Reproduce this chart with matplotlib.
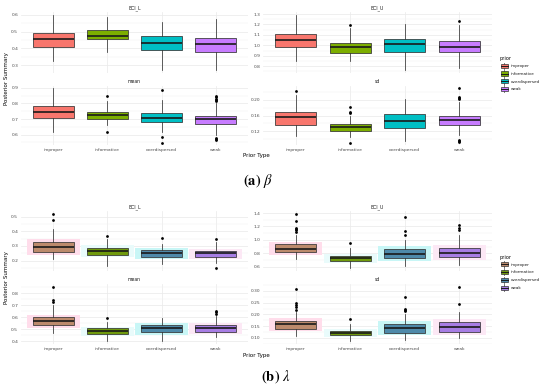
import matplotlib
matplotlib.use('Agg')
import matplotlib.pyplot as plt
from matplotlib.legend_handler import HandlerBase
from matplotlib.patches import Rectangle, Patch
from matplotlib.lines import Line2D
from matplotlib.ticker import MultipleLocator, FormatStrFormatter

plt.rcParams['font.family'] = ['DejaVu Sans']
plt.rcParams['mathtext.fontset'] = 'stix'

categories = ['improper', 'informative', 'overdispersed', 'weak']
facets = ['BCI_L', 'BCI_U', 'mean', 'sd']

# ---------------- (a) beta ----------------
beta_BCI_L_whislo = [0.325, 0.376, 0.271, 0.271]
beta_BCI_L_q1 = [0.408, 0.453, 0.392, 0.376]
beta_BCI_L_med = [0.455, 0.475, 0.430, 0.424]
beta_BCI_L_q3 = [0.489, 0.511, 0.475, 0.459]
beta_BCI_L_whishi = [0.598, 0.584, 0.555, 0.574]
beta_BCI_L_fliers = [[], [], [], []]

beta_BCI_U_whislo = [0.849, 0.849, 0.763, 0.779]
beta_BCI_U_q1 = [0.981, 0.929, 0.933, 0.933]
beta_BCI_U_med = [1.048, 0.981, 1.012, 0.987]
beta_BCI_U_q3 = [1.105, 1.025, 1.057, 1.044]
beta_BCI_U_whishi = [1.290, 1.170, 1.201, 1.195]
beta_BCI_U_fliers = [[], [1.19], [], [1.233]]

beta_mean_whislo = [0.619, 0.662, 0.619, 0.598]
beta_mean_q1 = [0.704, 0.700, 0.681, 0.666]
beta_mean_med = [0.745, 0.726, 0.704, 0.698]
beta_mean_q3 = [0.783, 0.747, 0.738, 0.721]
beta_mean_whishi = [0.896, 0.815, 0.821, 0.805]
beta_mean_fliers = [[], [0.845, 0.617], [0.889, 0.583, 0.549],
                    [0.847, 0.838, 0.830, 0.822, 0.815, 0.580, 0.573, 0.566]]

beta_sd_whislo = [0.108, 0.106, 0.0955, 0.110]
beta_sd_q1 = [0.136, 0.120, 0.129, 0.137]
beta_sd_med = [0.157, 0.130, 0.146, 0.148]
beta_sd_q3 = [0.170, 0.139, 0.163, 0.160]
beta_sd_whishi = [0.212, 0.160, 0.2025, 0.194]
beta_sd_fliers = [[0.222], [0.182, 0.170, 0.167, 0.0915], [],
                  [0.2285, 0.208, 0.205, 0.201, 0.0985, 0.095, 0.093]]

# ---------------- (b) lambda ----------------
lam_BCI_L_whislo = [0.212, 0.166, 0.176, 0.182]
lam_BCI_L_q1 = [0.257, 0.239, 0.223, 0.223]
lam_BCI_L_med = [0.296, 0.268, 0.255, 0.250]
lam_BCI_L_q3 = [0.325, 0.289, 0.273, 0.266]
lam_BCI_L_whishi = [0.416, 0.348, 0.312, 0.330]
lam_BCI_L_fliers = [[0.518, 0.478], [0.368], [0.353], [0.347, 0.148]]

lam_BCI_U_whislo = [0.711, 0.576, 0.615, 0.626]
lam_BCI_U_q1 = [0.816, 0.681, 0.726, 0.741]
lam_BCI_U_med = [0.870, 0.726, 0.790, 0.810]
lam_BCI_U_q3 = [0.936, 0.765, 0.861, 0.876]
lam_BCI_U_whishi = [1.075, 0.876, 1.000, 1.075]
lam_BCI_U_fliers = [[1.385, 1.280, 1.180, 1.160, 1.140, 1.120], [0.951],
                    [1.334, 1.135, 1.065], [1.214, 1.175, 1.140]]

lam_mean_whislo = [0.464, 0.400, 0.403, 0.431]
lam_mean_q1 = [0.531, 0.458, 0.472, 0.478]
lam_mean_med = [0.567, 0.481, 0.506, 0.508]
lam_mean_q3 = [0.600, 0.506, 0.531, 0.531]
lam_mean_whishi = [0.700, 0.556, 0.592, 0.611]
lam_mean_fliers = [[0.853, 0.739, 0.728], [0.589], [], [0.653, 0.639, 0.622]]

lam_sd_whislo = [0.107, 0.086, 0.089, 0.100]
lam_sd_q1 = [0.139, 0.110, 0.122, 0.125]
lam_sd_med = [0.160, 0.121, 0.142, 0.145]
lam_sd_q3 = [0.173, 0.131, 0.159, 0.167]
lam_sd_whishi = [0.212, 0.159, 0.200, 0.209]
lam_sd_fliers = [[0.307, 0.250, 0.239, 0.230, 0.219], [0.182],
                 [0.275, 0.225, 0.220, 0.215], [0.318, 0.243]]

beta_steps = [0.1, 0.1, 0.1, 0.04]
beta_fmts = ['%.1f', '%.1f', '%.1f', '%.2f']
lam_steps = [0.1, 0.2, 0.1, 0.05]
lam_fmts = ['%.1f', '%.1f', '%.1f', '%.2f']

top_colors = ['#F8766D', '#7CAE00', '#00BFC4', '#C77CFF']
bot_colors = ['#BC8A6C', '#6F9A0C', '#4E8AAA', '#A77DE4']
bot_glow = ['#FFDDEB', '#E9FBFB', '#C8F6F6', '#FCE8F5']

W, H = 550, 392
fig = plt.figure(figsize=(W / 100, H / 100), dpi=100)


def ax_at(x0, y0, x1, y1):
    return fig.add_axes([x0 / W, 1 - y1 / H, (x1 - x0) / W, (y1 - y0) / H])


def make_stats(wl, q1, md, q3, wh, fl):
    return [dict(whislo=wl[i], q1=q1[i], med=md[i], q3=q3[i], whishi=wh[i],
                 fliers=fl[i]) for i in range(len(categories))]


def draw_facet(ax, stats, title, colors, step, fmt, show_x, glow=None):
    pos = list(range(len(categories)))
    if glow is not None:
        gstats = []
        for s in stats:
            pad = 0.3 * (s['q3'] - s['q1'])
            gstats.append(dict(whislo=s['q1'] - pad, q1=s['q1'] - pad, med=s['med'],
                               q3=s['q3'] + pad, whishi=s['q3'] + pad, fliers=[]))
        g = ax.bxp(gstats, positions=pos, widths=0.98, patch_artist=True,
                   showfliers=False, showcaps=False,
                   boxprops=dict(edgecolor='none', linewidth=0),
                   whiskerprops=dict(linewidth=0),
                   medianprops=dict(linewidth=0), zorder=1.5)
        for b, c in zip(g['boxes'], glow):
            b.set_facecolor(c)
    r = ax.bxp(stats, positions=pos, widths=0.75, patch_artist=True,
               showfliers=True, showcaps=False,
               boxprops=dict(edgecolor='#333333', linewidth=0.55),
               whiskerprops=dict(color='#333333', linewidth=0.55),
               medianprops=dict(color='#1a1a1a', linewidth=1.2),
               flierprops=dict(marker='o', markersize=2.0, markerfacecolor='black',
                               markeredgecolor='none'), zorder=2)
    for b, c in zip(r['boxes'], colors):
        b.set_facecolor(c)
    vals = []
    for s in stats:
        vals += [s['whislo'], s['whishi']] + list(s['fliers'])
    lo, hi = min(vals), max(vals)
    ex = 0.05 * (hi - lo)
    ax.set_ylim(lo - ex, hi + ex)
    ax.set_xlim(-0.6, len(categories) - 0.4)
    ax.yaxis.set_major_locator(MultipleLocator(step))
    ax.yaxis.set_minor_locator(MultipleLocator(step / 2))
    ax.yaxis.set_major_formatter(FormatStrFormatter(fmt))
    ax.set_xticks(pos)
    ax.set_xticklabels(categories if show_x else [''] * len(categories))
    ax.tick_params(length=0, labelsize=3.2, labelcolor='#4D4D4D', pad=2)
    ax.tick_params(which='minor', length=0)
    ax.grid(True, which='major', color='#EBEBEB', linewidth=0.55)
    ax.grid(True, which='minor', axis='y', color='#F2F2F2', linewidth=0.35)
    ax.set_axisbelow(True)
    for sp in ax.spines.values():
        sp.set_visible(False)
    ax.set_title(title, fontsize=3.3, color='#1A1A1A', pad=2.2)


class BoxKey(HandlerBase):
    def create_artists(self, legend, orig, xd, yd, width, height, fontsize, trans):
        fc = orig.get_facecolor()
        cx = -xd + width / 2
        y0 = -yd
        line = Line2D([cx, cx], [y0 - height * 0.05, y0 + height * 1.05], color='#333333',
                      lw=0.5, transform=trans)
        rect = Rectangle((-xd + width * 0.06, y0 + height * 0.14), width * 0.88, height * 0.72,
                         facecolor=fc, edgecolor='#333333', lw=0.5, transform=trans)
        med = Line2D([-xd + width * 0.06, -xd + width * 0.94], [y0 + height / 2] * 2,
                     color='#1a1a1a', lw=0.7, transform=trans)
        return [line, rect, med]


def add_legend(colors, top_px):
    handles = [Patch(facecolor=c) for c in colors]
    leg = fig.legend(handles, categories, title='prior', loc='upper left',
                     bbox_to_anchor=(500 / W, 1 - top_px / H), frameon=False,
                     fontsize=3.0, title_fontsize=3.6, handlelength=2.0, handleheight=1.8,
                     handletextpad=0.6, labelspacing=0.45, borderpad=0, borderaxespad=0,
                     alignment='left', handler_map={Patch: BoxKey()})
    for t in leg.get_texts():
        t.set_color('#1A1A1A')


cols = [(21, 248), (263, 492)]

# panel (a)
rows_a = [(12.3, 72.8), (85.7, 145.3)]
beta_stats = [
    make_stats(beta_BCI_L_whislo, beta_BCI_L_q1, beta_BCI_L_med, beta_BCI_L_q3, beta_BCI_L_whishi, beta_BCI_L_fliers),
    make_stats(beta_BCI_U_whislo, beta_BCI_U_q1, beta_BCI_U_med, beta_BCI_U_q3, beta_BCI_U_whishi, beta_BCI_U_fliers),
    make_stats(beta_mean_whislo, beta_mean_q1, beta_mean_med, beta_mean_q3, beta_mean_whishi, beta_mean_fliers),
    make_stats(beta_sd_whislo, beta_sd_q1, beta_sd_med, beta_sd_q3, beta_sd_whishi, beta_sd_fliers),
]
for k in range(4):
    r, c = divmod(k, 2)
    ax = ax_at(cols[c][0], rows_a[r][0], cols[c][1], rows_a[r][1])
    draw_facet(ax, beta_stats[k], facets[k], top_colors, beta_steps[k], beta_fmts[k], r == 1)
fig.text(256 / W, 1 - 156 / H, 'Prior Type', fontsize=4.0, ha='center', va='center')
fig.text(6.5 / W, 1 - 78.7 / H, 'Posterior Summary', fontsize=4.0, ha='center', va='center', rotation=90)
add_legend(top_colors, 56)
fig.text(258 / W, 1 - 181 / H, r'$\mathbf{(a)}\ \beta$', fontsize=10.5, ha='center', va='center')

# panel (b)
rows_b = [(211.3, 271.0), (284.0, 343.8)]
lam_stats = [
    make_stats(lam_BCI_L_whislo, lam_BCI_L_q1, lam_BCI_L_med, lam_BCI_L_q3, lam_BCI_L_whishi, lam_BCI_L_fliers),
    make_stats(lam_BCI_U_whislo, lam_BCI_U_q1, lam_BCI_U_med, lam_BCI_U_q3, lam_BCI_U_whishi, lam_BCI_U_fliers),
    make_stats(lam_mean_whislo, lam_mean_q1, lam_mean_med, lam_mean_q3, lam_mean_whishi, lam_mean_fliers),
    make_stats(lam_sd_whislo, lam_sd_q1, lam_sd_med, lam_sd_q3, lam_sd_whishi, lam_sd_fliers),
]
for k in range(4):
    r, c = divmod(k, 2)
    ax = ax_at(cols[c][0], rows_b[r][0], cols[c][1], rows_b[r][1])
    draw_facet(ax, lam_stats[k], facets[k], bot_colors, lam_steps[k], lam_fmts[k], r == 1, glow=bot_glow)
fig.text(256 / W, 1 - 355.5 / H, 'Prior Type', fontsize=4.0, ha='center', va='center')
fig.text(6.5 / W, 1 - 277.5 / H, 'Posterior Summary', fontsize=4.0, ha='center', va='center', rotation=90)
add_legend(bot_colors, 254.5)
fig.text(276 / W, 1 - 377 / H, r'$\mathbf{(b)}\ \lambda$', fontsize=10.5, ha='center', va='center')

fig.savefig('out.png', dpi=100)
